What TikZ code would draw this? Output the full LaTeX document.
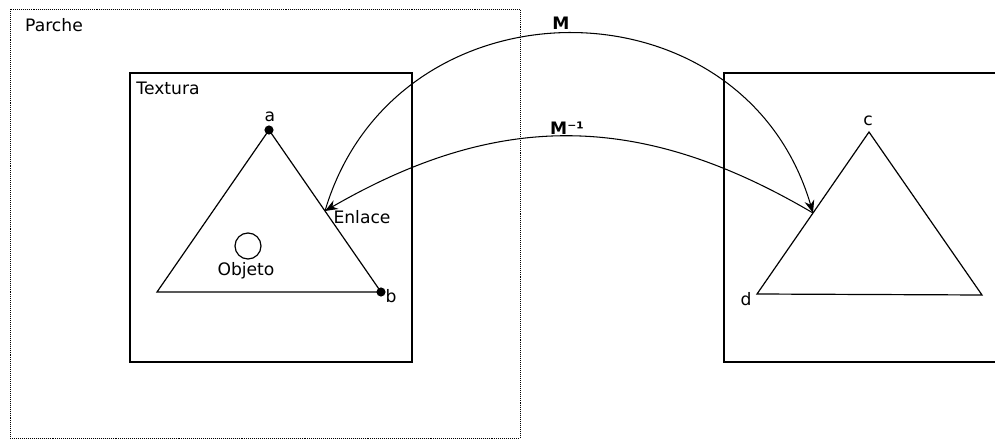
\documentclass[tikz,border=0pt]{standalone}
\usepackage{fontspec}
\setmainfont{DejaVu Sans}
\usetikzlibrary{arrows.meta, calc}

\begin{document}
\begin{tikzpicture}[x=0.025cm, y=-0.025cm, >=Stealth,
    txt/.style={font=\fontsize{12.2}{14}\selectfont, inner sep=0pt},
    mtxt/.style={font=\fontsize{12.2}{14}\selectfont\bfseries, inner sep=0pt},
    frame/.style={draw, line width=0.9pt},
    tri/.style={draw, line width=0.85pt},
    vdot/.style={circle, fill, inner sep=0pt, minimum size=6.5pt},
    map/.style={line width=0.75pt, -{Stealth[length=9pt, width=7pt]}}]
  \clip (0,0) rectangle (995,439);
  % patch and textures
  \draw[line width=0.7pt, dash pattern=on 0.7pt off 0.7pt] (10,9) rectangle (520,438);
  \node[txt] (parche) at (54,25) {Parche};
  \draw[frame] (130,73) rectangle (412,362);
  \node[txt] (textura) at (168,88) {Textura};
  \draw[frame] (724,73) rectangle (1010,362);
  % left triangle
  \coordinate (a) at (269,130);
  \coordinate (b) at (381,292);
  \coordinate (l) at (157,292);
  \draw[tri] (a) -- (b) -- (l) -- cycle;
  \node[vdot] (da) at (a) {};
  \node[vdot] (db) at (b) {};
  \node[txt] (la) at (270,117) {a};
  \node[txt] (lb) at (391,296) {b};
  \node[circle, draw, line width=0.85pt, minimum size=18.5pt, inner sep=0pt] (obj) at (248,246) {};
  \node[txt] (lobj) at (246,271) {Objeto};
  \coordinate (enl) at ($(a)!0.5!(b)$);
  \node[txt] (lenl) at (362,217) {Enlace};
  % right triangle
  \coordinate (c) at (869,132);
  \coordinate (d) at (757,294);
  \coordinate (r) at (982,295);
  \draw[tri] (c) -- (r) -- (d) -- cycle;
  \node[txt] (lc) at (868,121) {c};
  \node[txt] (ld) at (746,299) {d};
  \coordinate (tgt) at ($(d)!0.5!(c)$);
  % mappings
  \draw[map] (enl) .. controls +(70,-237) and +(-70,-239) .. (tgt);
  \node[mtxt] (lm) at (561,23) {M};
  \draw[map] (tgt) .. controls +(-173,-102) and +(173,-100) .. (enl);
  \node[mtxt] (lminv) at (567,128) {M⁻¹};
\end{tikzpicture}
\end{document}
